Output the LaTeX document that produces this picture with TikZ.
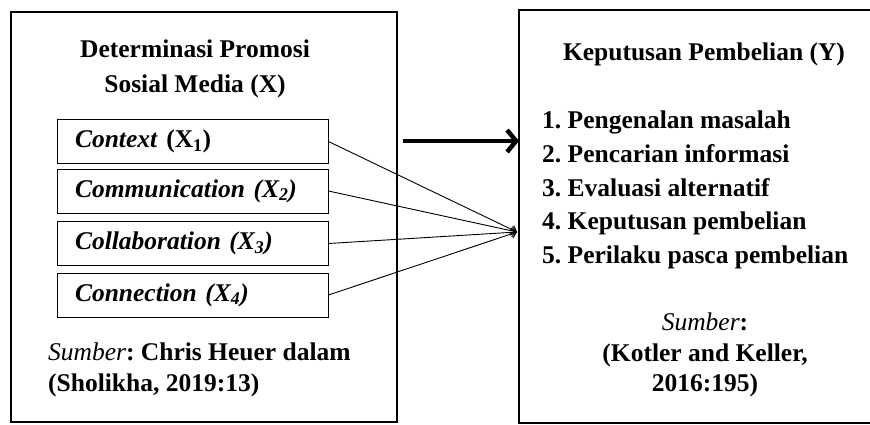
\documentclass[tikz,border=0pt]{standalone}
\usepackage{fontspec}
\setmainfont{Liberation Serif}
\usetikzlibrary{arrows.meta}
\frenchspacing

\begin{document}
\begin{tikzpicture}[x=1pt,y=-1pt,
    font=\fontsize{25.5}{34}\selectfont\bfseries,
    bigbox/.style={draw,line width=1.6pt},
    varbox/.style={draw,line width=0.9pt,minimum width=271pt,minimum height=44pt,
        text width=235pt,align=left,inner xsep=18pt,inner ysep=0pt},
    txt/.style={inner sep=0pt,anchor=base},
    txtl/.style={inner sep=0pt,anchor=base west}]
    % Frame
    \useasboundingbox (0,0) rectangle (870,424);
    % Big boxes
    \draw[bigbox] (11,12) rectangle (397,422);
    \draw[bigbox] (519,10) rectangle (880,423);
    % Left box: variable X
    \node[txt] (titleXa) at (195,57) {Determinasi Promosi};
    \node[txt] (titleXb) at (195,92) {Sosial Media (X)};
    \node[varbox] (x1) at (192.5,141.5) {\textit{Context} (X\textsubscript{1})};
    \node[varbox] (x2) at (192.5,191) {\textit{Communication (X\textsubscript{2})}};
    \node[varbox] (x3) at (192.5,243.5) {\textit{Collaboration (X\textsubscript{3})}};
    \node[varbox] (x4) at (192.5,295) {\textit{Connection (X\textsubscript{4})}};
    \node[txtl] (srcXa) at (48,360) {{\mdseries\itshape Sumber}: Chris Heuer dalam};
    \node[txtl] (srcXb) at (48,391) {(Sholikha, 2019:13)};
    % Right box: variable Y
    \node[txt] (titleY) at (704,60) {Keputusan Pembelian (Y)};
    \node[txtl] (y1) at (542,128) {1. Pengenalan masalah};
    \node[txtl] (y2) at (542,162) {2. Pencarian informasi};
    \node[txtl] (y3) at (542,196) {3. Evaluasi alternatif};
    \node[txtl] (y4) at (542,229) {4. Keputusan pembelian};
    \node[txtl] (y5) at (542,263) {5. Perilaku pasca pembelian};
    \node[txt] (srcYa) at (705,330) {{\mdseries\itshape Sumber}:};
    \node[txt] (srcYb) at (705,361) {(Kotler and Keller,};
    \node[txt] (srcYc) at (705,391) {2016:195)};
    % Arrows
    \coordinate (arrA) at (403,141);
    \coordinate (arrB) at (519,141);
    \coordinate (conv) at (517,232);
    \draw[line width=4.5pt,-{Straight Barb[length=9pt,width=22pt]}] (arrA) -- (arrB);
    \foreach \i in {1,...,4}
        \draw[line width=0.9pt,-{Straight Barb[length=5pt,width=9pt]}] (x\i.east) -- (conv);
\end{tikzpicture}
\end{document}
